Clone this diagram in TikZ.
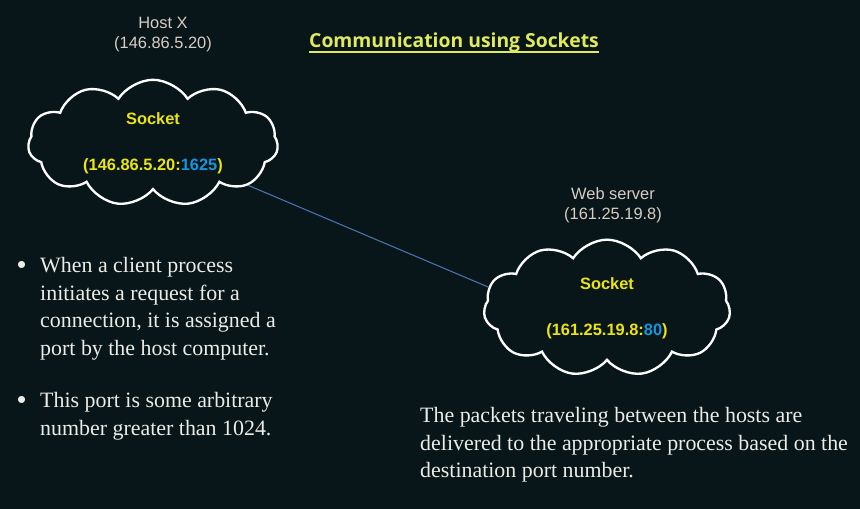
\documentclass[tikz,border=0pt]{standalone}
\usepackage{fontspec}
\setmainfont{Liberation Serif}
\newfontfamily\labelfont{Liberation Sans}
\newfontfamily\titlefont{Open Sans}
\usetikzlibrary{shapes.symbols}
\definecolor{slidebg}{RGB}{8,22,25}
\definecolor{labelgray}{RGB}{215,205,195}
\definecolor{sockyellow}{RGB}{235,228,20}
\definecolor{portblue}{RGB}{20,150,220}
\definecolor{titleyellow}{RGB}{225,235,90}
\definecolor{linkblue}{RGB}{75,115,175}
\definecolor{bodywhite}{RGB}{236,236,230}
\newcommand{\bigdot}{\llap{{\labelfont\fontsize{22}{22}\selectfont\raisebox{-1pt}{•}}\hspace{12pt}}}
\tikzset{
  hostlabel/.style={text=labelgray,font=\labelfont\fontsize{14}{17}\selectfont,align=center},
  sockcloud/.style={cloud,cloud puffs=11,cloud puff arc=115,aspect=2.2,draw=white,line width=2pt,
    text=sockyellow,font=\labelfont\bfseries\fontsize{14}{17}\selectfont,align=center},
  bodytext/.style={text=bodywhite,font=\fontsize{18.7}{23.6}\selectfont,align=left,anchor=north west,inner sep=0pt},
  link/.style={draw=linkblue,line width=0.9pt}
}
\begin{document}
\begin{tikzpicture}[x=0.03cm,y=-0.03cm]
    \fill[slidebg] (0,0) rectangle (860,509);
    \useasboundingbox (0,0) rectangle (860,509);

    \node[text=titleyellow,font=\titlefont\bfseries\fontsize{16.5}{20}\selectfont,inner sep=0pt] (title) at (454,42)
        {Communication using Sockets};
    \draw[titleyellow,line width=1.4pt] ([yshift=-4pt]title.base west) -- ([yshift=-4pt]title.base east);

    \node[hostlabel] (hostx) at (163,35) {Host X\\(146.86.5.20)};
    \node[hostlabel] (websrv) at (613,205) {Web server\\(161.25.19.8)};

    \node[sockcloud,minimum width=7.5cm,minimum height=3.5cm] (hostcloud) at (153,143)
        {Socket\\[22pt](146.86.5.20:\textcolor{portblue}{1625})};
    \node[sockcloud,minimum width=7.4cm,minimum height=4.1cm] (servercloud) at (607,308)
        {Socket\\[22pt](161.25.19.8:\textcolor{portblue}{80})};

    \draw[link] (hostcloud.-24) -- (servercloud.170);

    \node[bodytext] (clientnote) at (40,257)
        {\bigdot When a client process\\initiates a request for a\\connection, it is assigned a\\port by the host computer.};
    \node[bodytext] (portnote) at (40,392)
        {\bigdot This port is some arbitrary\\number greater than 1024.};
    \node[bodytext] (packetnote) at (420,407)
        {The packets traveling between the hosts are\\delivered to the appropriate process based on the\\destination port number.};
\end{tikzpicture}
\end{document}
